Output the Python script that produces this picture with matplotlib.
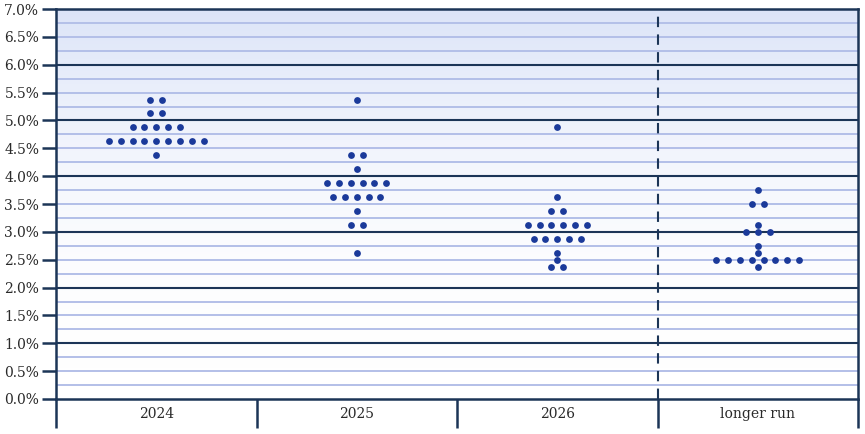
import numpy as np
import matplotlib
matplotlib.use('Agg')
import matplotlib.pyplot as plt
from matplotlib.colors import LinearSegmentedColormap

# data: rate level -> number of participants
categories = ['2024', '2025', '2026', 'longer run']

rates_2024 = [5.375, 5.125, 4.875, 4.625, 4.375]
counts_2024 = [2, 2, 5, 9, 1]

rates_2025 = [5.375, 4.375, 4.125, 3.875, 3.625, 3.375, 3.125, 2.625]
counts_2025 = [1, 2, 1, 6, 5, 1, 2, 1]

rates_2026 = [4.875, 3.625, 3.375, 3.125, 2.875, 2.625, 2.5, 2.375]
counts_2026 = [1, 1, 2, 6, 5, 1, 1, 2]

rates_lr = [3.75, 3.5, 3.125, 3.0, 2.75, 2.625, 2.5, 2.375]
counts_lr = [1, 2, 1, 3, 1, 1, 8, 1]

y_ticks = np.arange(0, 7.01, 0.5)
y_labels = [f'{v:.1f}%' for v in y_ticks]

navy = '#1c3557'
dot_color = '#1b3a9a'
minor_color = '#b3bfe8'

fig = plt.figure(figsize=(8.65, 4.34), dpi=100)
ax = fig.add_axes([56 / 865, 1 - 399 / 434, (858 - 56) / 865, (399 - 9) / 434])

# background gradient, blue at top fading to white
cmap = LinearSegmentedColormap.from_list('bg', ['#ffffff', '#dce4f8'])
grad = np.linspace(0, 1, 256).reshape(-1, 1) ** 2.2
ax.imshow(grad, extent=[0, 4, 0, 7], origin='lower', aspect='auto', cmap=cmap, zorder=0)

ax.set_xlim(0, 4)
ax.set_ylim(0, 7)

# grid lines
for v in np.arange(0.25, 7, 0.25):
    if abs(v - round(v)) < 1e-9:
        ax.axhline(v, color=navy, lw=1.5, zorder=1)
    else:
        ax.axhline(v, color=minor_color, lw=1.4, zorder=1)

ax.plot([3, 3], [0, 7], color=navy, lw=1.5, ls=(0, (5, 3.5)), zorder=1)

# dots
step = 0.059
all_rates = [rates_2024, rates_2025, rates_2026, rates_lr]
all_counts = [counts_2024, counts_2025, counts_2026, counts_lr]
for i, (rates, counts) in enumerate(zip(all_rates, all_counts)):
    xs, ys = [], []
    for r, n in zip(rates, counts):
        for k in range(n):
            xs.append(i + 0.5 + (k - (n - 1) / 2) * step)
            ys.append(r)
    ax.scatter(xs, ys, s=24, color=dot_color, zorder=3, linewidths=0)

for s in ax.spines.values():
    s.set_color(navy)
    s.set_linewidth(1.8)

ax.set_yticks(y_ticks)
ax.set_yticklabels(y_labels, family='DejaVu Serif', fontsize=10, color='#2a2a2a')
ax.tick_params(axis='y', length=10, width=1.8, color=navy, pad=2)

ax.set_xticks([0, 1, 2, 3, 4])
ax.set_xticklabels([])
ax.tick_params(axis='x', which='major', length=21, width=1.8, color=navy, direction='out')
ax.set_xticks([0.5, 1.5, 2.5, 3.5], minor=True)
ax.set_xticklabels(categories, minor=True, family='DejaVu Serif', fontsize=10, color='#2a2a2a')
ax.tick_params(axis='x', which='minor', length=0, pad=6)

fig.savefig('out.png', dpi=100)
